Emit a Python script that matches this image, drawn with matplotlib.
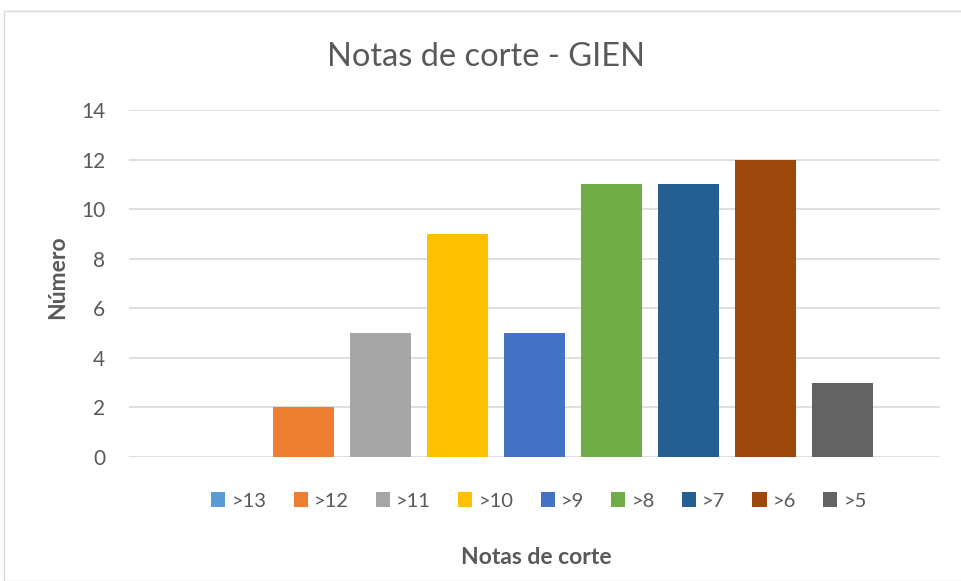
import matplotlib
matplotlib.use("Agg")
import matplotlib.pyplot as plt
from matplotlib.patches import Rectangle, Patch

categories = [">13", ">12", ">11", ">10", ">9", ">8", ">7", ">6", ">5"]
values = [0, 2, 5, 9, 5, 11, 11, 12, 3]
colors = ["#5B9BD5", "#ED7D31", "#A5A5A5", "#FFC000", "#4472C4",
          "#70AD47", "#255E91", "#9E480E", "#636363"]
yticks = [0, 2, 4, 6, 8, 10, 12, 14]

plt.rcParams['font.family'] = ['Lato', 'DejaVu Sans']
W, H = 962, 581
fig = plt.figure(figsize=(W / 100, H / 100), dpi=100)
fig.patch.set_facecolor("white")

# chart border
fig.patches.append(Rectangle((4 / W, 0), 1.2, 1 - 10.5 / H, transform=fig.transFigure,
                             fill=False, edgecolor="#D9D9D9", linewidth=1.0))

ax = fig.add_axes([129 / W, 1 - 457 / H, (940 - 129) / W, (457 - 110) / H])
x = list(range(len(categories)))
ax.bar(x, values, width=61 / 77, color=colors, zorder=3)
ax.set_xlim(-1.266, 9.266)
ax.set_ylim(0, 14)
ax.set_yticks(yticks)
ax.set_yticklabels([str(v) for v in yticks], fontsize=15, color="#595959")
ax.set_xticks([])
ax.tick_params(axis="y", length=0, pad=17)
for s in ax.spines.values():
    s.set_visible(False)
ax.grid(axis="y", color="#D9D9D9", linewidth=1.2, zorder=0)
ax.set_axisbelow(True)

fig.text(486 / W, 1 - 57 / H, "Notas de corte - GIEN", ha="center", va="center",
         fontsize=23.5, color="#595959")
fig.text(58 / W, 1 - 277 / H, "Número", ha="center", va="center", rotation=90,
         fontsize=16.5, fontweight="bold", color="#595959")
fig.text(536.5 / W, 1 - 557 / H, "Notas de corte", ha="center", va="center",
         fontsize=16.5, fontweight="bold", color="#595959")

handles = [Patch(facecolor=c, edgecolor="none") for c in colors]
leg = fig.legend(handles, categories, loc="center", bbox_to_anchor=(539 / W, 1 - 501 / H),
                 ncol=9, frameon=False, fontsize=14.5, handlelength=0.7, handleheight=0.7,
                 handletextpad=0.3, columnspacing=1.35)
for t in leg.get_texts():
    t.set_color("#595959")

fig.savefig("out.png", dpi=100)
